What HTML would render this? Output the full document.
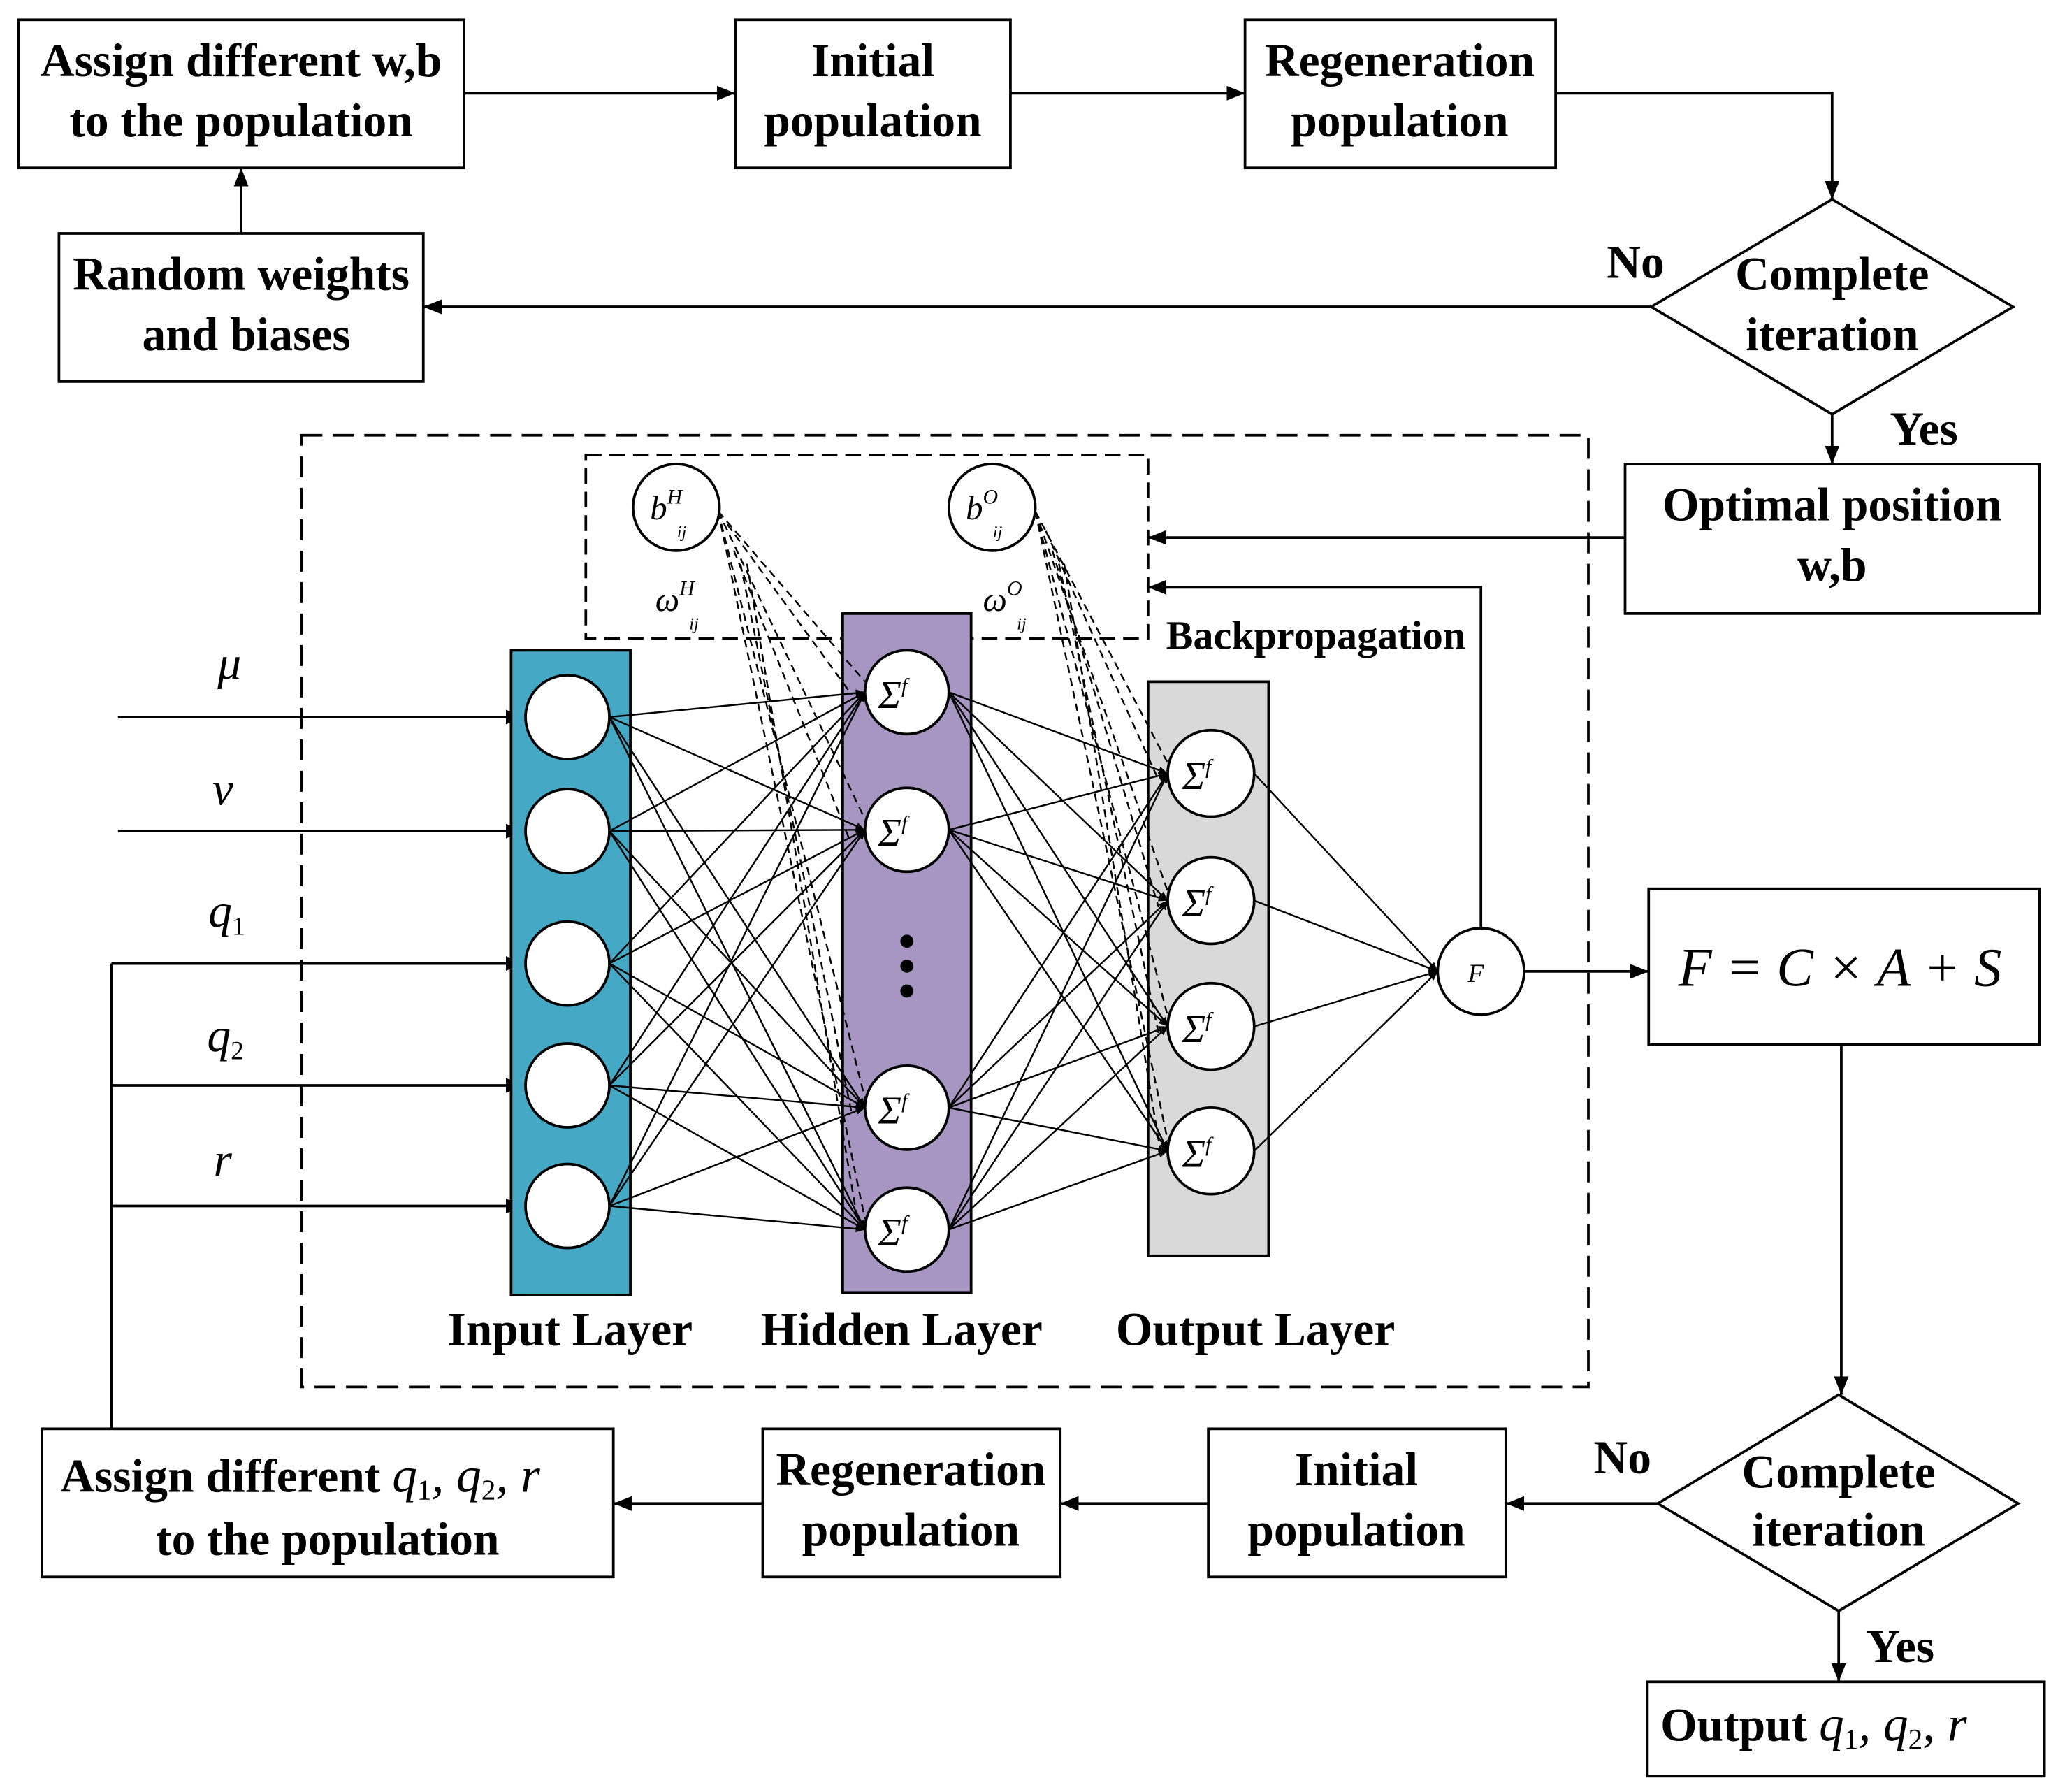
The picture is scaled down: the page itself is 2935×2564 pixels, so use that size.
<!DOCTYPE html>
<html><head><meta charset="utf-8"><style>
html,body{margin:0;padding:0;background:#fff}
svg{display:block}
text{font-family:"Liberation Serif",serif;fill:#000}
.b{font-weight:bold;font-size:36px}
.it{font-style:italic}
</style></head><body>
<svg width="2935" height="2564" viewBox="0 0 1565 1367" xmlns="http://www.w3.org/2000/svg">
<defs><marker id="a" viewBox="0 0 10 10" refX="10" refY="5" markerWidth="7" markerHeight="7" orient="auto" markerUnits="userSpaceOnUse"><path d="M0,1 L10,5 L0,9z" fill="#000"/></marker>
<marker id="m" viewBox="0 0 10 10" refX="10" refY="5" markerWidth="14" markerHeight="14" orient="auto" markerUnits="userSpaceOnUse"><path d="M0,1 L10,5 L0,9z" fill="#000"/></marker></defs>
<g fill="none" stroke="#000" stroke-width="2">
<rect x="14" y="15" width="340" height="113"/>
<rect x="561" y="15" width="210" height="113"/>
<rect x="950" y="15" width="237" height="113"/>
<rect x="45" y="178" width="278" height="113"/>
<polygon points="1398,152 1536,234 1398,316 1260,234"/>
<rect x="1240" y="354" width="316" height="114"/>
<rect x="1258" y="678" width="298" height="119"/>
<polygon points="1403,1064 1540,1147 1403,1229 1265,1147"/>
<rect x="922" y="1090" width="227" height="113"/>
<rect x="582" y="1090" width="227" height="113"/>
<rect x="32" y="1090" width="436" height="113"/>
<rect x="1257" y="1283" width="303" height="72"/>
<rect x="230" y="332" width="982" height="726" stroke-dasharray="16,8"/>
<rect x="447" y="347" width="429" height="140" stroke-dasharray="12,6"/>
</g>
<g stroke="#000" stroke-width="2" fill="none" marker-end="url(#m)">
<line x1="354" y1="71" x2="561" y2="71"/>
<line x1="771" y1="71" x2="950" y2="71"/>
<polyline points="1187,71 1398,71 1398,152"/>
<line x1="1260" y1="234" x2="323" y2="234"/>
<line x1="184" y1="178" x2="184" y2="128"/>
<line x1="1398" y1="316" x2="1398" y2="354"/>
<line x1="1240" y1="410" x2="876" y2="410"/>
<polyline points="1130,708 1130,448 876,448"/>
<line x1="1163" y1="741" x2="1258" y2="741"/>
<line x1="1405" y1="797" x2="1405" y2="1064"/>
<line x1="1265" y1="1147" x2="1149" y2="1147"/>
<line x1="922" y1="1147" x2="809" y2="1147"/>
<line x1="582" y1="1147" x2="468" y2="1147"/>
<line x1="1403" y1="1229" x2="1403" y2="1283"/>
<line x1="90" y1="547" x2="400" y2="547"/>
<line x1="90" y1="634" x2="400" y2="634"/>
<line x1="85" y1="735" x2="400" y2="735"/>
<line x1="85" y1="828" x2="400" y2="828"/>
<line x1="85" y1="920" x2="400" y2="920"/>
</g>
<line x1="85" y1="1090" x2="85" y2="735" stroke="#000" stroke-width="2"/>
<rect x="390" y="496" width="91" height="492" fill="#45a8c4" stroke="#000" stroke-width="2"/>
<rect x="643" y="468" width="98" height="518" fill="#a795c2" stroke="#000" stroke-width="2"/>
<rect x="876" y="520" width="92" height="438" fill="#d9d9d9" stroke="#000" stroke-width="2"/>
<g stroke="#000" stroke-width="1.3" marker-end="url(#a)">
<line x1="465" y1="547" x2="660" y2="528"/><line x1="465" y1="547" x2="660" y2="633"/><line x1="465" y1="547" x2="660" y2="845"/><line x1="465" y1="547" x2="660" y2="938"/>
<line x1="465" y1="634" x2="660" y2="528"/><line x1="465" y1="634" x2="660" y2="633"/><line x1="465" y1="634" x2="660" y2="845"/><line x1="465" y1="634" x2="660" y2="938"/>
<line x1="465" y1="735" x2="660" y2="528"/><line x1="465" y1="735" x2="660" y2="633"/><line x1="465" y1="735" x2="660" y2="845"/><line x1="465" y1="735" x2="660" y2="938"/>
<line x1="465" y1="828" x2="660" y2="528"/><line x1="465" y1="828" x2="660" y2="633"/><line x1="465" y1="828" x2="660" y2="845"/><line x1="465" y1="828" x2="660" y2="938"/>
<line x1="465" y1="920" x2="660" y2="528"/><line x1="465" y1="920" x2="660" y2="633"/><line x1="465" y1="920" x2="660" y2="845"/><line x1="465" y1="920" x2="660" y2="938"/>
<line x1="724" y1="528" x2="891" y2="590"/><line x1="724" y1="528" x2="891" y2="687"/><line x1="724" y1="528" x2="891" y2="783"/><line x1="724" y1="528" x2="891" y2="878"/>
<line x1="724" y1="633" x2="891" y2="590"/><line x1="724" y1="633" x2="891" y2="687"/><line x1="724" y1="633" x2="891" y2="783"/><line x1="724" y1="633" x2="891" y2="878"/>
<line x1="724" y1="845" x2="891" y2="590"/><line x1="724" y1="845" x2="891" y2="687"/><line x1="724" y1="845" x2="891" y2="783"/><line x1="724" y1="845" x2="891" y2="878"/>
<line x1="724" y1="938" x2="891" y2="590"/><line x1="724" y1="938" x2="891" y2="687"/><line x1="724" y1="938" x2="891" y2="783"/><line x1="724" y1="938" x2="891" y2="878"/>
<line x1="957" y1="590" x2="1097" y2="741"/><line x1="957" y1="687" x2="1097" y2="741"/><line x1="957" y1="783" x2="1097" y2="741"/><line x1="957" y1="878" x2="1097" y2="741"/>
</g>
<g stroke="#000" stroke-width="1.3" stroke-dasharray="6,4" fill="none">
<line x1="548" y1="390" x2="660" y2="520"/><line x1="548" y1="390" x2="660" y2="625"/><line x1="548" y1="390" x2="660" y2="838"/><line x1="548" y1="390" x2="660" y2="930"/>
<line x1="555" y1="400" x2="650" y2="530"/><line x1="560" y1="420" x2="648" y2="640"/><line x1="565" y1="430" x2="650" y2="850"/><line x1="570" y1="430" x2="655" y2="935"/>
<line x1="790" y1="390" x2="891" y2="582"/><line x1="790" y1="390" x2="891" y2="680"/><line x1="790" y1="390" x2="891" y2="775"/><line x1="790" y1="390" x2="891" y2="870"/>
<line x1="798" y1="405" x2="884" y2="595"/><line x1="803" y1="420" x2="884" y2="692"/><line x1="808" y1="430" x2="884" y2="788"/><line x1="812" y1="430" x2="886" y2="882"/>
</g>
<g fill="#fff" stroke="#000" stroke-width="2">
<circle cx="433" cy="547" r="32"/><circle cx="433" cy="634" r="32"/><circle cx="433" cy="735" r="32"/><circle cx="433" cy="828" r="32"/><circle cx="433" cy="920" r="32"/>
<circle cx="692" cy="528" r="32"/><circle cx="692" cy="633" r="32"/><circle cx="692" cy="845" r="32"/><circle cx="692" cy="938" r="32"/>
<circle cx="924" cy="590" r="33"/><circle cx="924" cy="687" r="33"/><circle cx="924" cy="783" r="33"/><circle cx="924" cy="878" r="33"/>
<circle cx="1130" cy="741" r="33"/>
<circle cx="516" cy="387" r="33"/><circle cx="757" cy="387" r="33"/>
</g>
<circle cx="692" cy="718" r="5"/><circle cx="692" cy="737" r="5"/><circle cx="692" cy="756" r="5"/>
<g font-size="30" class="it">
<text x="670" y="540">Σ<tspan font-size="16" dy="-12">f</tspan></text>
<text x="670" y="645">Σ<tspan font-size="16" dy="-12">f</tspan></text>
<text x="670" y="857">Σ<tspan font-size="16" dy="-12">f</tspan></text>
<text x="670" y="950">Σ<tspan font-size="16" dy="-12">f</tspan></text>
<text x="902" y="602">Σ<tspan font-size="16" dy="-12">f</tspan></text>
<text x="902" y="699">Σ<tspan font-size="16" dy="-12">f</tspan></text>
<text x="902" y="795">Σ<tspan font-size="16" dy="-12">f</tspan></text>
<text x="902" y="890">Σ<tspan font-size="16" dy="-12">f</tspan></text>
<text x="1120" y="749" font-size="20">F</text>
<text x="496" y="396" font-size="26">b<tspan font-size="16" dy="-12">H</tspan><tspan font-size="13" dx="-4" dy="26">ij</tspan></text>
<text x="737" y="396" font-size="26">b<tspan font-size="16" dy="-12">O</tspan><tspan font-size="13" dx="-4" dy="26">ij</tspan></text>
<text x="500" y="466" font-size="26">ω<tspan font-size="16" dy="-12">H</tspan><tspan font-size="13" dx="-4" dy="26">ij</tspan></text>
<text x="750" y="466" font-size="26">ω<tspan font-size="16" dy="-12">O</tspan><tspan font-size="13" dx="-4" dy="26">ij</tspan></text>
</g>
<g class="it" font-size="36" text-anchor="middle">
<text x="175" y="518">μ</text><text x="170" y="614">v</text>
<text x="173" y="707">q<tspan font-size="20" font-style="normal" dy="6">1</tspan></text>
<text x="172" y="802">q<tspan font-size="20" font-style="normal" dy="6">2</tspan></text>
<text x="170" y="897">r</text>
<text x="1404" y="752" font-size="42">F = C × A + S</text>
</g>
<g class="b" text-anchor="middle">
<text x="184" y="58">Assign different w,b</text><text x="184" y="104">to the population</text>
<text x="666" y="58">Initial</text><text x="666" y="104">population</text>
<text x="1068" y="58">Regeneration</text><text x="1068" y="104">population</text>
<text x="184" y="221">Random weights</text><text x="188" y="267">and biases</text>
<text x="1398" y="221">Complete</text><text x="1398" y="267">iteration</text>
<text x="1398" y="397">Optimal position</text><text x="1398" y="443">w,b</text>
<text x="1403" y="1135">Complete</text><text x="1403" y="1179">iteration</text>
<text x="1035" y="1133">Initial</text><text x="1035" y="1179">population</text>
<text x="695" y="1133">Regeneration</text><text x="695" y="1179">population</text>
<text x="250" y="1186">to the population</text>
<text x="435" y="1026">Input Layer</text><text x="688" y="1026">Hidden Layer</text><text x="958" y="1026">Output Layer</text>
<text x="1248" y="212">No</text><text x="1468" y="339">Yes</text>
<text x="1238" y="1124">No</text><text x="1450" y="1268">Yes</text>
<text x="1004" y="495" font-size="31">Backpropagation</text>
</g>
<text class="b" x="46" y="1138">Assign different <tspan font-weight="normal" font-style="italic" font-size="38">q<tspan font-size="22" font-style="normal" dy="6">1</tspan><tspan dy="-6">, q</tspan><tspan font-size="22" font-style="normal" dy="6">2</tspan><tspan dy="-6">, r</tspan></tspan></text>
<text class="b" x="1267" y="1328">Output <tspan font-weight="normal" font-style="italic" font-size="38">q<tspan font-size="22" font-style="normal" dy="6">1</tspan><tspan dy="-6">, q</tspan><tspan font-size="22" font-style="normal" dy="6">2</tspan><tspan dy="-6">, r</tspan></tspan></text>
</svg>
</body></html>
